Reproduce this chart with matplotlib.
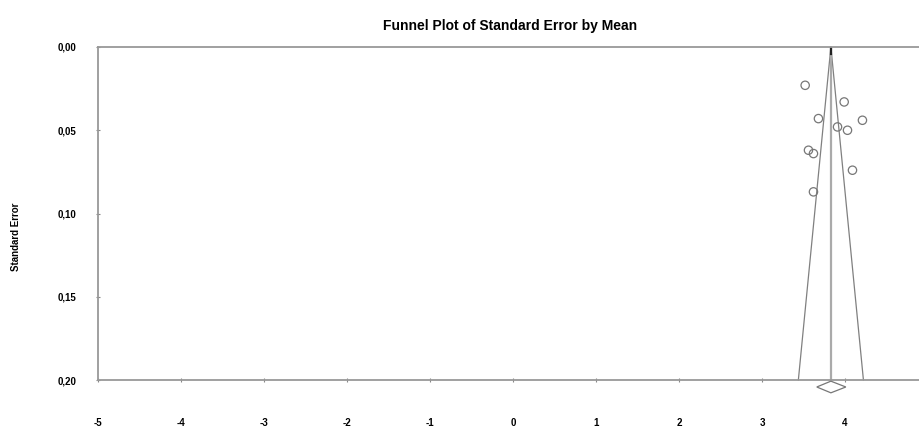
import numpy as np
import matplotlib
matplotlib.use("Agg")
import matplotlib.pyplot as plt

plt.rcParams['font.family'] = ['Liberation Sans', 'DejaVu Sans']

# study estimates (mean) and their standard errors
means = [3.52, 3.99, 3.68, 4.21, 3.91, 4.03, 3.56, 3.62, 4.09, 3.62]
std_errs = [0.023, 0.033, 0.043, 0.044, 0.048, 0.050, 0.062, 0.064, 0.074, 0.087]
pooled_mean = 3.83
diamond_low, diamond_high = 3.66, 4.01

x_ticks = [-5, -4, -3, -2, -1, 0, 1, 2, 3, 4]
y_ticks = [0.00, 0.05, 0.10, 0.15, 0.20]
se_max = 0.20

fig = plt.figure(figsize=(9.2, 4.28), dpi=100)
ax = fig.add_axes([98 / 920, 48 / 428, 830 / 920, 333 / 428])

# funnel (95% limits)
se_line = np.array([0.0, se_max])
ax.plot(pooled_mean - 1.96 * se_line, se_line, color='#808080', lw=0.9, clip_on=False)
ax.plot(pooled_mean + 1.96 * se_line, se_line, color='#808080', lw=0.9, clip_on=False)
ax.plot([pooled_mean, pooled_mean], [0, se_max], color='#aaaaaa', lw=1.6)
ax.plot([pooled_mean, pooled_mean], [0, 0.004], color='#222222', lw=1.6)

ax.scatter(means, std_errs, s=36, facecolors='none', edgecolors='#777777', linewidths=0.9, zorder=3)

# pooled estimate diamond below the axis
dy = 0.0035
ax.fill([diamond_low, pooled_mean, diamond_high, pooled_mean],
        [se_max + 0.0042, se_max + 0.0042 - dy, se_max + 0.0042, se_max + 0.0042 + dy],
        facecolor='white', edgecolor='#777777', lw=0.9, clip_on=False, zorder=4)

ax.set_xlim(-5, 5)
ax.set_ylim(se_max, 0)
ax.set_xticks(x_ticks)
ax.set_yticks(y_ticks)
ax.set_xticklabels([str(t) for t in x_ticks], fontsize=7, fontweight='bold')
ax.set_yticklabels([f"{t:.2f}".replace('.', ',') for t in y_ticks], fontsize=7, fontweight='bold')
ax.tick_params(axis='x', direction='inout', length=3, width=0.8, color='#888888', pad=26)
ax.tick_params(axis='y', direction='inout', length=3, width=0.8, color='#888888', pad=14)

for side in ['top', 'left', 'bottom']:
    ax.spines[side].set_color('#999999')
    ax.spines[side].set_linewidth(1.3)
ax.spines['right'].set_visible(False)

ax.set_ylabel('Standard Error', fontsize=7, fontweight='bold')
ax.yaxis.set_label_coords(-77 / 830, 0.43)
fig.text(510 / 920, 1 - 26 / 428, 'Funnel Plot of Standard Error by Mean',
         ha='center', va='center', fontsize=10, fontweight='bold')

fig.savefig('out.png', dpi=100)
